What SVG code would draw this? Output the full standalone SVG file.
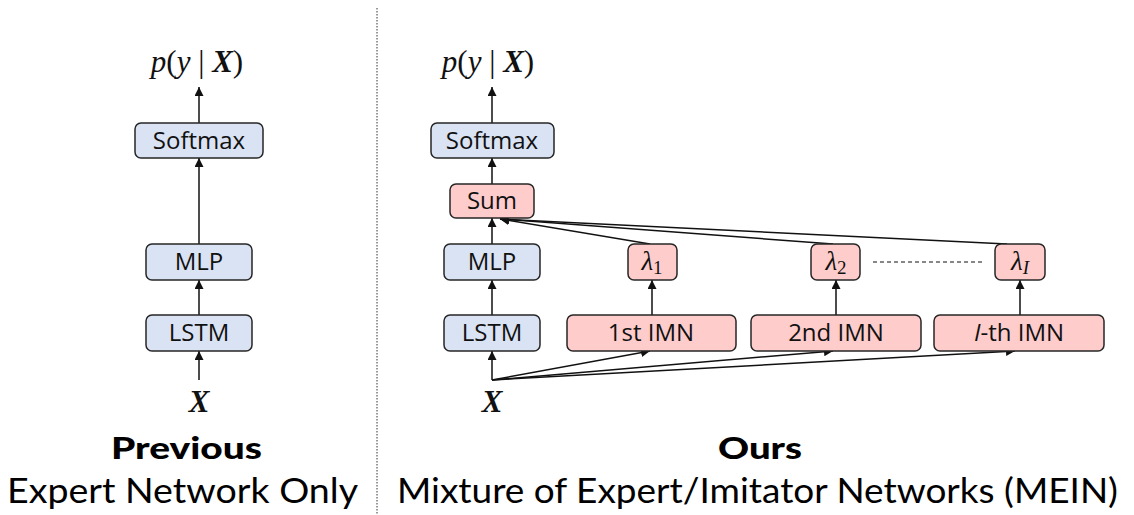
<svg xmlns="http://www.w3.org/2000/svg" width="1134" height="515" viewBox="0 0 1134 515">
  <style>
    .blue { fill: #dae3f3; stroke: #262626; stroke-width: 1.5; }
    .pink { fill: #ffcccc; stroke: #262626; stroke-width: 1.5; }
    .lbl { font-family: "Open Sans", "Noto Sans", sans-serif; font-size: 24px; fill: #111; text-anchor: middle; }
    .math { font-family: "Liberation Serif", "DejaVu Serif", serif; font-size: 31px; fill: #111; text-anchor: middle; }
    .lam { font-family: "Liberation Serif", "DejaVu Serif", serif; font-size: 27px; fill: #111; text-anchor: middle; }
    .edge { stroke: #111; stroke-width: 1.5; fill: none; }
    .title { font-family: "Lato", "Liberation Sans", sans-serif; font-weight: 900; font-size: 31px; fill: #000; }
    .sub { font-family: "Lato", "Liberation Sans", sans-serif; font-size: 34px; fill: #000; }
  </style>
  <defs>
    <marker id="arr" viewBox="0 0 10 10" refX="10" refY="5" markerWidth="9" markerHeight="9" markerUnits="userSpaceOnUse" orient="auto">
      <path d="M0,0 L10,5 L0,10 z" fill="#111"/>
    </marker>
  </defs>

  <!-- divider -->
  <line x1="377" y1="8" x2="377" y2="515" stroke="#333" stroke-width="1" stroke-dasharray="1.5 1.5"/>

  <!-- connectors -->
  <g id="connectors">
    <!-- left -->
    <line class="edge" x1="199" y1="380" x2="199" y2="351" marker-end="url(#arr)"/>
    <line class="edge" x1="199" y1="315" x2="199" y2="280" marker-end="url(#arr)"/>
    <line class="edge" x1="199" y1="244" x2="199" y2="158" marker-end="url(#arr)"/>
    <line class="edge" x1="199" y1="123" x2="199" y2="87" marker-end="url(#arr)"/>
    <!-- right main -->
    <line class="edge" x1="492" y1="380" x2="492" y2="351" marker-end="url(#arr)"/>
    <line class="edge" x1="492" y1="315" x2="492" y2="280" marker-end="url(#arr)"/>
    <line class="edge" x1="492" y1="244" x2="492" y2="218" marker-end="url(#arr)"/>
    <line class="edge" x1="492" y1="184" x2="492" y2="158" marker-end="url(#arr)"/>
    <line class="edge" x1="492" y1="123" x2="492" y2="87" marker-end="url(#arr)"/>
    <!-- X to IMNs -->
    <line class="edge" x1="492" y1="380" x2="650" y2="351" marker-end="url(#arr)"/>
    <line class="edge" x1="492" y1="380" x2="833" y2="351" marker-end="url(#arr)"/>
    <line class="edge" x1="492" y1="380" x2="1015" y2="351" marker-end="url(#arr)"/>
    <!-- IMN to lambda -->
    <line class="edge" x1="652" y1="315" x2="652" y2="280" marker-end="url(#arr)"/>
    <line class="edge" x1="836" y1="315" x2="836" y2="280" marker-end="url(#arr)"/>
    <line class="edge" x1="1020" y1="315" x2="1020" y2="280" marker-end="url(#arr)"/>
    <!-- lambda to Sum -->
    <line class="edge" x1="650" y1="244" x2="500" y2="219" marker-end="url(#arr)"/>
    <line class="edge" x1="833" y1="244" x2="500" y2="219" marker-end="url(#arr)"/>
    <line class="edge" x1="1007" y1="244" x2="500" y2="219" marker-end="url(#arr)"/>
    <!-- dashed between lambda2 and lambdaI -->
    <line x1="873" y1="262" x2="983" y2="262" stroke="#111" stroke-width="1.2" stroke-dasharray="4 3"/>
  </g>

  <!-- left column -->
  <g id="left-out"><text class="math" x="197" y="72"><tspan font-style="italic">p</tspan>(<tspan font-style="italic">y</tspan> | <tspan font-style="italic" font-weight="bold">X</tspan>)</text></g>
  <g id="left-softmax"><rect class="blue" x="135" y="123" width="128" height="35" rx="6"/><text class="lbl" x="199" y="149">Softmax</text></g>
  <g id="left-mlp"><rect class="blue" x="146" y="244" width="106" height="36" rx="6"/><text class="lbl" x="199" y="270">MLP</text></g>
  <g id="left-lstm"><rect class="blue" x="146" y="315" width="106" height="36" rx="6"/><text class="lbl" x="199" y="341">LSTM</text></g>
  <g id="left-x"><text class="math" x="199" y="412" font-style="italic" font-weight="bold">X</text></g>

  <!-- right column -->
  <g id="right-out"><text class="math" x="488" y="72"><tspan font-style="italic">p</tspan>(<tspan font-style="italic">y</tspan> | <tspan font-style="italic" font-weight="bold">X</tspan>)</text></g>
  <g id="right-softmax"><rect class="blue" x="431" y="123" width="123" height="35" rx="6"/><text class="lbl" x="492" y="149">Softmax</text></g>
  <g id="sum"><rect class="pink" x="450" y="184" width="84" height="34" rx="6"/><text class="lbl" x="492" y="209">Sum</text></g>
  <g id="right-mlp"><rect class="blue" x="444" y="244" width="96" height="36" rx="6"/><text class="lbl" x="492" y="270">MLP</text></g>
  <g id="right-lstm"><rect class="blue" x="444" y="315" width="96" height="36" rx="6"/><text class="lbl" x="492" y="341">LSTM</text></g>
  <g id="right-x"><text class="math" x="492" y="412" font-style="italic" font-weight="bold">X</text></g>

  <g id="lambda1"><rect class="pink" x="628" y="244" width="49" height="36" rx="6"/><text class="lam" x="652" y="270"><tspan font-style="italic">λ</tspan><tspan font-size="19" dy="4">1</tspan></text></g>
  <g id="lambda2"><rect class="pink" x="811" y="244" width="49" height="36" rx="6"/><text class="lam" x="836" y="270"><tspan font-style="italic">λ</tspan><tspan font-size="19" dy="4">2</tspan></text></g>
  <g id="lambdaI"><rect class="pink" x="995" y="244" width="50" height="36" rx="6"/><text class="lam" x="1020" y="270"><tspan font-style="italic">λ</tspan><tspan font-size="19" dy="4" font-style="italic">I</tspan></text></g>

  <g id="imn1"><rect class="pink" x="567" y="315" width="169" height="36" rx="6"/><text class="lbl" x="651" y="341">1st IMN</text></g>
  <g id="imn2"><rect class="pink" x="751" y="315" width="170" height="36" rx="6"/><text class="lbl" x="836" y="341">2nd IMN</text></g>
  <g id="imnI"><rect class="pink" x="934" y="315" width="170" height="36" rx="6"/><text class="lbl" x="1019" y="341"><tspan font-style="italic">I</tspan>-th IMN</text></g>

  <!-- captions -->
  <g id="caption-left">
    <text class="title" x="111" y="459" textLength="151" lengthAdjust="spacingAndGlyphs">Previous</text>
    <text class="sub" x="7" y="503" textLength="351" lengthAdjust="spacingAndGlyphs">Expert Network Only</text>
  </g>
  <g id="caption-right">
    <text class="title" x="718" y="459" textLength="84" lengthAdjust="spacingAndGlyphs">Ours</text>
    <text class="sub" x="397" y="503" textLength="721" lengthAdjust="spacingAndGlyphs">Mixture of Expert/Imitator Networks (MEIN)</text>
  </g>
</svg>
